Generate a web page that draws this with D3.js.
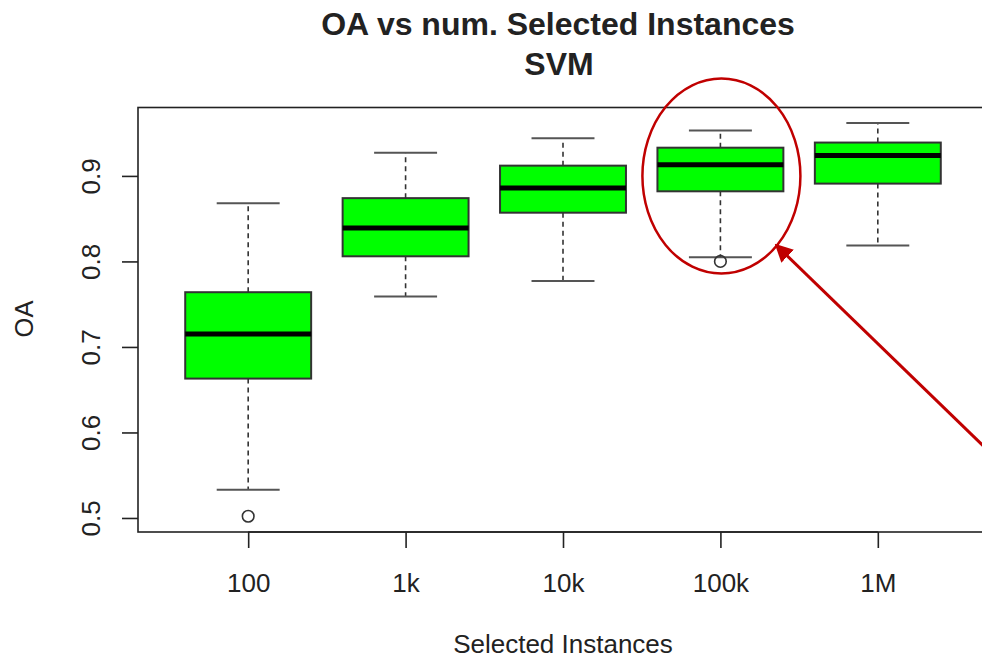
<!DOCTYPE html>
<html>
<head>
<meta charset="utf-8">
<script src="https://cdn.jsdelivr.net/npm/d3@7"></script>
<style>
  body { margin: 0; background: #fff; }
  text { font-family: "Liberation Sans", Arial, sans-serif; fill: #222; }
</style>
</head>
<body>
<div id="chart"></div>
<script>
// Box statistics
const categories = ["100", "1k", "10k", "100k", "1M"];
const lowerWhisker = [0.533, 0.759, 0.777, 0.805, 0.8185];
const q1 = [0.663, 0.806, 0.857, 0.882, 0.891];
const median = [0.715, 0.839, 0.886, 0.913, 0.924];
const q3 = [0.764, 0.874, 0.912, 0.933, 0.939];
const upperWhisker = [0.868, 0.927, 0.944, 0.953, 0.962];
const outliers = [[0.502], [], [], [0.800], []];
const yTicks = [0.5, 0.6, 0.7, 0.8, 0.9];

const width = 982;
const height = 659;

const svg = d3.select("#chart")
  .append("svg")
  .attr("width", width)
  .attr("height", height);

// R style plot region: x from 0.3 to 5.7 (boxes at 1..5), y padded 4%
const x = d3.scaleLinear()
  .domain([0.3, 5.7])
  .range([138, 988]);

const y = d3.scaleLinear()
  .domain([0.4836, 0.98])
  .range([532, 107.5]);

const step = x(2) - x(1);
const boxW = step * 0.8;

const boxes = categories.map((c, i) => ({
  cat: c,
  pos: i + 1,
  lo: lowerWhisker[i],
  q1: q1[i],
  med: median[i],
  q3: q3[i],
  hi: upperWhisker[i],
  out: outliers[i]
}));

const g = svg.append("g");

// whiskers (dashed)
g.selectAll("line.whisk-up")
  .data(boxes)
  .enter().append("line")
  .attr("x1", d => x(d.pos)).attr("x2", d => x(d.pos))
  .attr("y1", d => y(d.q3)).attr("y2", d => y(d.hi))
  .attr("stroke", "#333").attr("stroke-width", 1.6)
  .attr("stroke-dasharray", "5,4");

g.selectAll("line.whisk-lo")
  .data(boxes)
  .enter().append("line")
  .attr("x1", d => x(d.pos)).attr("x2", d => x(d.pos))
  .attr("y1", d => y(d.q1)).attr("y2", d => y(d.lo))
  .attr("stroke", "#333").attr("stroke-width", 1.6)
  .attr("stroke-dasharray", "5,4");

// whisker caps
["hi", "lo"].forEach(k => {
  g.selectAll("line.cap-" + k)
    .data(boxes)
    .enter().append("line")
    .attr("x1", d => x(d.pos) - boxW / 4).attr("x2", d => x(d.pos) + boxW / 4)
    .attr("y1", d => y(d[k])).attr("y2", d => y(d[k]))
    .attr("stroke", "#555").attr("stroke-width", 2);
});

// boxes
g.selectAll("rect.box")
  .data(boxes)
  .enter().append("rect")
  .attr("x", d => x(d.pos) - boxW / 2)
  .attr("width", boxW)
  .attr("y", d => y(d.q3))
  .attr("height", d => y(d.q1) - y(d.q3))
  .attr("fill", "#00ff00")
  .attr("stroke", "#333")
  .attr("stroke-width", 2);

// medians
g.selectAll("line.median")
  .data(boxes)
  .enter().append("line")
  .attr("x1", d => x(d.pos) - boxW / 2).attr("x2", d => x(d.pos) + boxW / 2)
  .attr("y1", d => y(d.med)).attr("y2", d => y(d.med))
  .attr("stroke", "#000").attr("stroke-width", 5);

// outliers
const outPts = boxes.flatMap(d => d.out.map(v => ({ pos: d.pos, v: v })));
g.selectAll("circle.out")
  .data(outPts)
  .enter().append("circle")
  .attr("cx", d => x(d.pos))
  .attr("cy", d => y(d.v))
  .attr("r", 5.8)
  .attr("fill", "none")
  .attr("stroke", "#333")
  .attr("stroke-width", 1.6);

// plot frame
svg.append("rect")
  .attr("x", x(0.3)).attr("y", y(0.98))
  .attr("width", x(5.7) - x(0.3))
  .attr("height", y(0.4836) - y(0.98))
  .attr("fill", "none")
  .attr("stroke", "#222")
  .attr("stroke-width", 1.6);

// y axis
const yAxis = svg.append("g")
  .attr("transform", `translate(${x(0.3)},0)`)
  .call(d3.axisLeft(y).tickValues(yTicks).tickSize(16).tickFormat(d3.format(".1f")));
yAxis.select(".domain").remove();
yAxis.selectAll(".tick line").attr("stroke", "#222").attr("stroke-width", 1.6);
yAxis.selectAll(".tick text")
  .attr("x", null).attr("dy", null)
  .attr("transform", "translate(-38,0) rotate(-90)")
  .attr("text-anchor", "middle")
  .style("font-size", "26px")
  .style("font-family", "'Liberation Sans', Arial, sans-serif")
  .attr("fill", "#222");

// x axis
const xAxis = svg.append("g")
  .attr("transform", `translate(0,${y(0.4836)})`)
  .call(d3.axisBottom(x).tickValues(boxes.map(d => d.pos)).tickSize(16)
    .tickFormat((d, i) => categories[i]));
xAxis.select(".domain").remove();
xAxis.append("line")
  .attr("x1", x(1)).attr("x2", x(5))
  .attr("stroke", "#222").attr("stroke-width", 1.6);
xAxis.selectAll(".tick line").attr("stroke", "#222").attr("stroke-width", 1.6);
xAxis.selectAll(".tick text")
  .attr("y", 59.5)
  .attr("dy", null)
  .style("font-size", "26px")
  .style("font-family", "'Liberation Sans', Arial, sans-serif")
  .attr("fill", "#222");

// axis titles
svg.append("text")
  .attr("x", 563).attr("y", 653)
  .attr("text-anchor", "middle")
  .style("font-size", "26px")
  .text("Selected Instances");

svg.append("text")
  .attr("transform", "translate(33,319) rotate(-90)")
  .attr("text-anchor", "middle")
  .style("font-size", "25.5px")
  .text("OA");

// title
svg.append("text")
  .attr("x", 558).attr("y", 35)
  .attr("text-anchor", "middle")
  .style("font-size", "32px").style("font-weight", "bold")
  .attr("fill", "#111")
  .text("OA vs num. Selected Instances");

svg.append("text")
  .attr("x", 559).attr("y", 75)
  .attr("text-anchor", "middle")
  .style("font-size", "32px").style("font-weight", "bold")
  .attr("fill", "#111")
  .text("SVM");

// annotation: red ellipse round the 100k box and arrow pointing at it
const red = "#c00000";
svg.append("defs").append("marker")
  .attr("id", "arrowhead")
  .attr("viewBox", "0 0 10 10")
  .attr("refX", 9).attr("refY", 5)
  .attr("markerWidth", 6).attr("markerHeight", 6)
  .attr("markerUnits", "strokeWidth")
  .attr("orient", "auto")
  .append("path")
  .attr("d", "M0,0 L10,5 L0,10 Z")
  .attr("fill", red);

svg.append("ellipse")
  .attr("cx", x(4) + 1).attr("cy", 176)
  .attr("rx", 79).attr("ry", 97.5)
  .attr("fill", "none")
  .attr("stroke", red)
  .attr("stroke-width", 2.5);

svg.append("line")
  .attr("x1", 1000).attr("y1", 462)
  .attr("x2", 776).attr("y2", 245)
  .attr("stroke", red)
  .attr("stroke-width", 3)
  .attr("marker-end", "url(#arrowhead)");
</script>
</body>
</html>
